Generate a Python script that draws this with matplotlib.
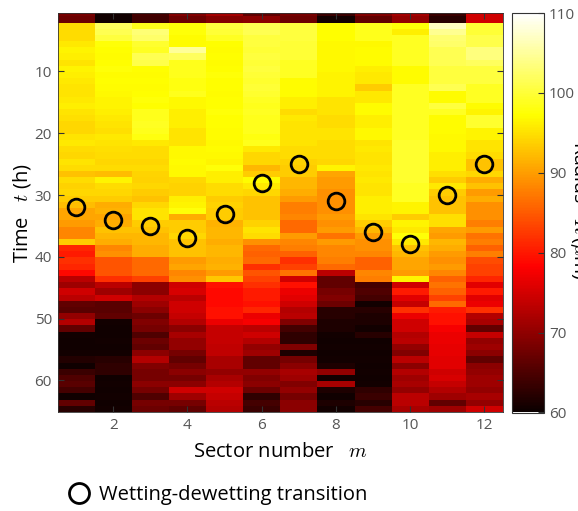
import numpy as np
import matplotlib
matplotlib.use("Agg")
import matplotlib.pyplot as plt

plt.rcParams['font.family'] = ['Open Sans', 'DejaVu Sans']
plt.rcParams['mathtext.fontset'] = 'cm'

# ---------------- data ----------------
sectors = np.arange(1, 13)                       # sector number m
time_h = np.arange(65) + 0.6                     # row centres (h)

# radius R (um) per sector, one value per hour row (65 rows)
R1 = [68.1, 67.4, 94.6, 94.6, 94.6, 95.7, 96.4, 96.0, 95.3, 96.4, 96.0, 95.7, 95.3, 95.3, 95.7, 96.0,
      95.3, 94.9, 94.2, 94.2, 95.3, 95.7, 94.6, 94.2, 95.3, 94.6, 92.7, 94.6, 93.8, 94.2, 93.5, 92.4,
      90.5, 90.5, 89.8, 88.3, 88.3, 93.5, 81.0, 80.2, 81.7, 81.0, 78.8, 73.2, 71.0, 74.7, 73.2, 66.6,
      65.9, 70.3, 72.5, 66.6, 60.7, 60.5, 60.5, 60.7, 61.8, 60.5, 63.7, 65.1, 65.9, 64.4, 60.5, 66.6, 62.2]
R2 = [60.7, 60.5, 101.9, 101.4, 100.4, 97.5, 97.3, 97.1, 97.3, 97.5, 97.1, 97.3, 97.1, 96.8, 96.4, 96.4,
      96.0, 95.7, 95.3, 94.9, 95.7, 95.3, 94.9, 94.6, 94.2, 94.6, 92.4, 96.4, 94.6, 94.2, 93.5, 91.2,
      91.6, 90.5, 91.2, 92.7, 92.0, 91.2, 88.3, 89.0, 84.6, 84.6, 84.6, 81.7, 73.2, 71.0, 74.7, 65.9,
      65.9, 66.6, 60.7, 60.5, 60.5, 60.7, 60.5, 60.6, 62.2, 62.9, 62.9, 60.5, 60.6, 60.5, 60.7, 60.5, 60.6]
R3 = [64.4, 64.0, 98.5, 103.0, 102.4, 99.5, 99.0, 101.4, 100.9, 97.3, 97.1, 97.3, 97.1, 97.3, 97.5, 97.3,
      98.5, 98.5, 99.0, 98.5, 98.0, 95.7, 94.6, 94.6, 94.2, 94.6, 94.0, 93.8, 94.2, 93.5, 92.7, 94.2,
      95.3, 95.3, 93.5, 92.7, 92.0, 92.0, 91.2, 91.2, 86.1, 86.1, 86.1, 83.2, 69.6, 69.6, 72.5, 71.0,
      69.6, 67.4, 68.8, 68.1, 65.1, 67.4, 66.6, 69.6, 72.5, 68.8, 68.1, 68.1, 69.6, 68.1, 65.1, 68.1, 67.4]
R4 = [68.8, 67.4, 97.5, 97.5, 97.1, 97.1, 104.9, 101.9, 98.5, 98.5, 98.5, 98.0, 98.0, 98.5, 96.8, 96.8,
      96.0, 96.0, 96.0, 95.3, 95.3, 95.3, 96.8, 96.8, 97.1, 96.8, 96.8, 94.2, 93.8, 93.8, 96.0, 96.4,
      97.5, 91.2, 93.5, 93.5, 94.2, 92.7, 92.7, 92.7, 89.8, 90.5, 88.3, 89.0, 74.7, 75.4, 73.2, 74.7,
      74.7, 74.0, 72.5, 69.6, 71.8, 70.3, 70.3, 68.1, 66.6, 68.1, 69.6, 68.1, 69.6, 74.7, 71.0, 68.1, 66.6]
R5 = [71.4, 69.0, 100.4, 100.0, 99.0, 97.3, 97.1, 97.3, 97.1, 97.3, 97.5, 97.3, 97.3, 97.1, 97.3, 97.3,
      97.5, 97.3, 97.3, 97.1, 97.1, 96.8, 97.1, 96.8, 96.4, 97.5, 96.0, 96.0, 94.6, 94.6, 93.5, 93.8,
      93.5, 93.5, 91.6, 92.0, 92.0, 91.2, 92.0, 92.0, 91.2, 91.6, 89.8, 93.1, 79.5, 78.8, 78.8, 78.8,
      79.5, 79.5, 76.9, 74.0, 74.0, 74.0, 73.6, 73.6, 71.8, 71.8, 70.3, 71.8, 72.5, 74.7, 74.0, 73.2, 72.5]
R6 = [66.6, 69.6, 101.4, 101.4, 100.4, 100.4, 100.0, 100.4, 100.0, 100.4, 100.0, 99.5, 100.0, 99.5, 99.0, 98.5,
      99.0, 98.5, 98.5, 98.5, 98.0, 98.5, 95.7, 94.2, 94.2, 92.0, 93.5, 97.1, 95.7, 94.2, 92.7, 92.7,
      92.7, 92.7, 93.8, 95.3, 94.6, 89.0, 86.1, 85.4, 86.1, 81.7, 84.6, 83.2, 81.7, 80.2, 80.2, 79.5,
      81.0, 76.9, 77.6, 73.2, 74.7, 72.5, 70.3, 71.0, 66.6, 66.6, 70.3, 68.8, 69.6, 67.4, 62.9, 64.4, 63.7]
R7 = [68.1, 67.4, 100.4, 100.4, 100.4, 100.0, 100.0, 100.0, 99.0, 99.0, 99.0, 97.1, 97.1, 97.1, 96.0, 96.0,
      94.6, 95.7, 95.3, 95.3, 95.3, 95.3, 94.6, 94.6, 93.8, 93.5, 93.5, 92.0, 92.0, 91.2, 89.8, 87.6,
      87.6, 88.3, 86.1, 86.1, 89.8, 88.3, 87.6, 85.4, 81.7, 83.2, 86.8, 74.7, 79.5, 76.9, 76.2, 74.7,
      72.5, 73.2, 68.8, 64.4, 62.9, 62.9, 68.8, 61.5, 68.1, 69.6, 71.8, 71.0, 68.8, 70.3, 68.1, 69.6, 69.6]
R8 = [63.7, 60.7, 97.3, 97.3, 97.3, 96.8, 96.8, 96.8, 96.8, 96.8, 96.4, 96.4, 96.4, 96.4, 95.3, 95.3,
      95.3, 94.6, 94.6, 95.3, 95.3, 94.6, 94.6, 94.6, 94.2, 96.4, 90.5, 89.8, 89.8, 89.0, 89.0, 89.0,
      89.0, 89.8, 89.0, 89.8, 86.8, 89.8, 88.3, 88.3, 87.6, 86.1, 73.2, 66.6, 66.6, 68.1, 68.8, 67.4,
      62.2, 62.2, 61.5, 61.5, 60.7, 60.5, 60.6, 60.5, 60.7, 61.5, 70.3, 60.6, 71.8, 61.5, 60.5, 61.5, 60.6]
R9 = [68.8, 66.6, 98.5, 98.5, 98.5, 96.8, 97.1, 97.1, 97.1, 96.0, 95.7, 95.7, 93.5, 95.7, 95.7, 97.1,
      97.1, 96.0, 96.0, 96.8, 96.8, 95.3, 95.7, 95.3, 95.3, 95.7, 95.3, 95.7, 95.3, 95.3, 96.0, 96.0,
      96.0, 95.3, 93.5, 92.0, 89.8, 89.0, 89.0, 88.3, 85.4, 85.4, 88.3, 87.6, 64.4, 65.1, 64.4, 60.7,
      62.2, 61.5, 61.5, 60.7, 62.2, 60.5, 60.6, 60.5, 60.7, 60.5, 60.6, 60.5, 60.6, 62.9, 63.7, 62.2, 64.4]
R10 = [71.4, 70.3, 97.5, 96.0, 99.0, 99.0, 99.0, 99.0, 99.0, 97.1, 97.1, 97.1, 99.0, 99.0, 99.0, 99.0,
       99.0, 99.0, 99.0, 99.0, 99.0, 99.5, 99.5, 99.5, 99.5, 99.5, 99.5, 99.5, 99.0, 99.0, 99.0, 96.4,
       96.4, 93.5, 96.4, 95.7, 97.5, 95.7, 92.7, 92.0, 90.5, 90.5, 89.8, 96.4, 74.7, 80.2, 76.2, 74.0,
       81.7, 76.9, 74.7, 74.7, 72.5, 73.2, 70.3, 68.8, 73.2, 69.6, 72.5, 71.0, 71.8, 70.3, 73.2, 73.2, 71.8]
R11 = [63.7, 62.2, 106.8, 104.4, 102.9, 102.4, 101.4, 101.4, 101.4, 100.4, 100.4, 100.4, 101.4, 97.1, 97.1, 100.4,
       99.0, 97.1, 97.1, 97.1, 96.8, 96.8, 96.8, 96.0, 96.0, 96.0, 94.9, 93.5, 95.7, 93.5, 92.7, 92.7,
       92.7, 94.9, 94.9, 90.5, 89.8, 92.0, 91.2, 89.8, 89.0, 89.8, 88.3, 85.4, 86.8, 85.4, 83.2, 86.1,
       80.2, 79.5, 79.5, 77.6, 76.9, 76.9, 76.5, 76.5, 76.2, 76.2, 74.7, 75.4, 74.0, 72.5, 71.0, 66.6, 71.0]
R12 = [74.7, 74.7, 100.0, 100.0, 100.9, 100.9, 103.4, 103.4, 101.9, 100.4, 100.4, 100.4, 99.0, 99.0, 99.0, 97.1,
       96.4, 99.5, 99.5, 96.4, 96.4, 95.3, 95.3, 94.6, 92.7, 92.7, 94.2, 91.2, 92.7, 89.8, 91.2, 89.0,
       89.0, 89.0, 87.6, 89.8, 86.8, 87.6, 85.4, 87.6, 83.9, 83.2, 83.2, 81.0, 76.2, 80.2, 76.2, 76.9,
       81.7, 72.5, 71.8, 66.6, 74.0, 70.3, 71.0, 69.6, 66.6, 69.6, 70.3, 71.0, 71.0, 70.3, 71.8, 70.3, 74.7]

# wetting-dewetting transition time per sector (h)
transition_t = [32, 34, 35, 37, 33, 28, 25, 31, 36, 38, 30, 25]

xticks = [2, 4, 6, 8, 10, 12]
yticks = [10, 20, 30, 40, 50, 60]
cticks = [60, 70, 80, 90, 100, 110]

# ---------------- figure ----------------
Z = np.array([R1, R2, R3, R4, R5, R6, R7, R8, R9, R10, R11, R12]).T
x_edges = np.concatenate([sectors - 0.5, [sectors[-1] + 0.5]])
y_edges = np.concatenate([time_h - 0.5, [time_h[-1] + 0.5]])

fig = plt.figure(figsize=(5.78, 5.11), dpi=100)
ax = fig.add_axes([57.5 / 578, (511 - 412) / 511, 445.5 / 578, 398.7 / 511])
mesh = ax.pcolormesh(x_edges, y_edges, Z, cmap='hot', vmin=60, vmax=110, shading='flat')
ax.plot(sectors, transition_t, 'o', ms=12, mfc='none', mec='black', mew=2.0,
        label='Wetting-dewetting transition')

ax.set_xlim(0.5, 12.5)
ax.set_ylim(time_h[-1] + 0.5, time_h[0])
ax.set_xticks(xticks)
ax.set_yticks(yticks)
gray = '#555555'
ax.tick_params(direction='in', length=4, width=0.8, color='#333333', labelcolor=gray,
               labelsize=11, top=True, right=True, pad=4)
for s in ax.spines.values():
    s.set_color('#333333')
    s.set_linewidth(0.6)
ax.set_xlabel(r'Sector number   $m$', fontsize=14.5, labelpad=7)
ax.set_ylabel(r'Time   $t$ (h)', fontsize=14.5, labelpad=1)

cax = fig.add_axes([512 / 578, (511 - 412.5) / 511, 31.5 / 578, 399.5 / 511])
cb = fig.colorbar(mesh, cax=cax, ticks=cticks)
cb.outline.set_edgecolor('#333333')
cb.outline.set_linewidth(0.8)
cax.tick_params(direction='in', length=4, width=0.8, color='#333333', labelcolor=gray,
                labelsize=11, pad=4)
fig.text(579 / 578, (511 - 210) / 511, r'Radius   $R$ ($\mu$m)', rotation=270,
         fontsize=14, ha='center', va='center')

handles, labels = ax.get_legend_handles_labels()
leg = fig.legend(handles, labels, loc='center left', bbox_to_anchor=(58 / 578, 16 / 511),
                 frameon=False, fontsize=14.5, handletextpad=0.35, handlelength=1.3,
                 borderaxespad=0, markerscale=1.2)

fig.savefig('out.png', dpi=100)
